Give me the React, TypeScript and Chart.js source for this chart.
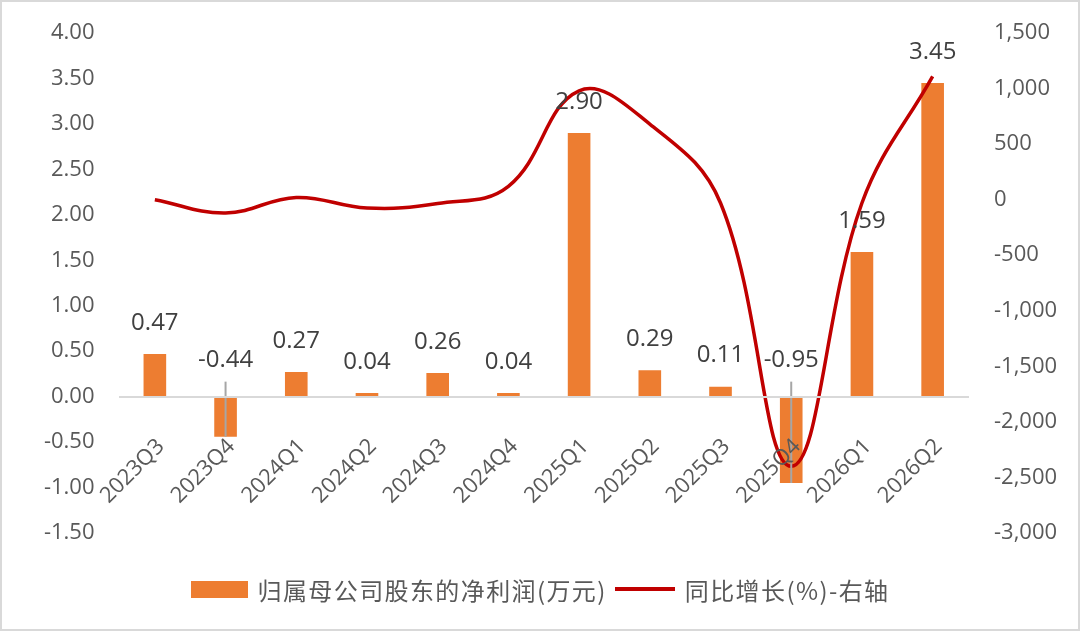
import { useEffect, useRef } from "react";
import { Chart, registerables } from "chart.js";
Chart.register(...registerables);

const quarters = ["2023Q3", "2023Q4", "2024Q1", "2024Q2", "2024Q3", "2024Q4", "2025Q1", "2025Q2", "2025Q3", "2025Q4", "2026Q1", "2026Q2"];
const netProfit = [0.47, -0.44, 0.27, 0.04, 0.26, 0.04, 2.9, 0.29, 0.11, -0.95, 1.59, 3.45];
const yoyGrowth = [0, -120, 20, -75, -35, 120, 980, 680, -30, -2400, -30, 1110];

const barLabel = "归属母公司股东的净利润(万元)";
const lineLabel = "同比增长(%)-右轴";
const ORANGE = "#ed7d31";
const RED = "#c00000";
const TICK = "#595959";

const barLabels = {
  id: "barLabels",
  afterDatasetsDraw(chart: Chart) {
    const { ctx } = chart;
    const meta = chart.getDatasetMeta(0);
    const zero = chart.scales.y.getPixelForValue(0);
    ctx.save();
    ctx.font = "24px 'Open Sans'";
    ctx.fillStyle = "#404040";
    ctx.textAlign = "center";
    ctx.textBaseline = "middle";
    netProfit.forEach((v, i) => {
      const bar: any = meta.data[i];
      if (v >= 0) {
        ctx.fillText(v.toFixed(2), bar.x, bar.y - 31);
      } else {
        const ly = zero - 36;
        ctx.strokeStyle = "#a6a6a6";
        ctx.lineWidth = 2;
        ctx.beginPath();
        ctx.moveTo(bar.x, ly + 21);
        ctx.lineTo(bar.x, bar.y);
        ctx.stroke();
        ctx.fillText(v.toFixed(2), bar.x, ly);
      }
    });
    ctx.restore();
  },
};

export default function App() {
  const canvasRef = useRef<HTMLCanvasElement>(null);
  const chartRef = useRef<Chart | null>(null);

  useEffect(() => {
    document.body.style.margin = "0";
    if (!canvasRef.current) return;
    chartRef.current?.destroy();

    chartRef.current = new Chart(canvasRef.current, {
      type: "bar",
      data: {
        labels: quarters,
        datasets: [
          {
            type: "bar",
            label: barLabel,
            data: netProfit,
            backgroundColor: ORANGE,
            barPercentage: 0.32,
            categoryPercentage: 1,
            yAxisID: "y",
            order: 1,
          },
          {
            type: "line",
            label: lineLabel,
            data: yoyGrowth,
            borderColor: RED,
            borderWidth: 3.5,
            pointRadius: 0,
            tension: 0.4,
            yAxisID: "y1",
            order: 0,
          } as any,
        ],
      },
      options: {
        animation: false,
        responsive: false,
        devicePixelRatio: 1,
        layout: { padding: { top: 33, bottom: 98, left: 0, right: 0 } },
        plugins: { legend: { display: false }, tooltip: { enabled: false } },
        scales: {
          x: {
            position: { y: 0 } as any,
            grid: { display: false, drawTicks: true, tickLength: 34 },
            border: { display: true, color: "#d9d9d9", width: 2, z: 1 },
            ticks: {
              z: 2,
              color: TICK,
              font: { family: "'Open Sans'", size: 22 },
              minRotation: 45,
              maxRotation: 45,
              labelOffset: 6,
              autoSkip: false,
            },
          },
          y: {
            position: "left",
            min: -1.5,
            max: 4,
            grid: { display: false },
            border: { display: false },
            ticks: {
              stepSize: 0.5,
              padding: 17,
              color: TICK,
              font: { family: "'Open Sans'", size: 22 },
              callback: (v: any) => Number(v).toFixed(2),
            },
            afterFit: (s: any) => { s.width = 119.5; },
          },
          y1: {
            position: "right",
            min: -3000,
            max: 1500,
            grid: { display: false },
            border: { display: false },
            ticks: {
              stepSize: 500,
              padding: 18,
              color: TICK,
              font: { family: "'Open Sans'", size: 22 },
              callback: (v: any) => Number(v).toLocaleString("en-US"),
            },
            afterFit: (s: any) => { s.width = 112; },
          },
        },
      },
      plugins: [barLabels],
    });

    return () => { chartRef.current?.destroy(); };
  }, []);

  const legendText = { fontFamily: "'Noto Sans CJK SC'", fontSize: 24, color: TICK, letterSpacing: 1.4 };

  return (
    <div style={{ position: "relative", width: 1080, height: 631, background: "#fff" }}>
      <canvas ref={canvasRef} width={1080} height={631} style={{ position: "absolute", left: 0, top: 0 }}></canvas>
      <div style={{ position: "absolute", left: 0, top: 570, width: 1080, height: 38, display: "flex", justifyContent: "center", alignItems: "center" }}>
        <span style={{ width: 57, height: 17, background: ORANGE, marginRight: 10 }}></span>
        <span style={legendText}>{barLabel}</span>
        <span style={{ width: 60, height: 4, background: RED, marginLeft: 8, marginRight: 10 }}></span>
        <span style={legendText}>{lineLabel}</span>
      </div>
      <div style={{ position: "absolute", inset: 0, border: "2px solid #d9d9d9", pointerEvents: "none" }}></div>
    </div>
  );
}
